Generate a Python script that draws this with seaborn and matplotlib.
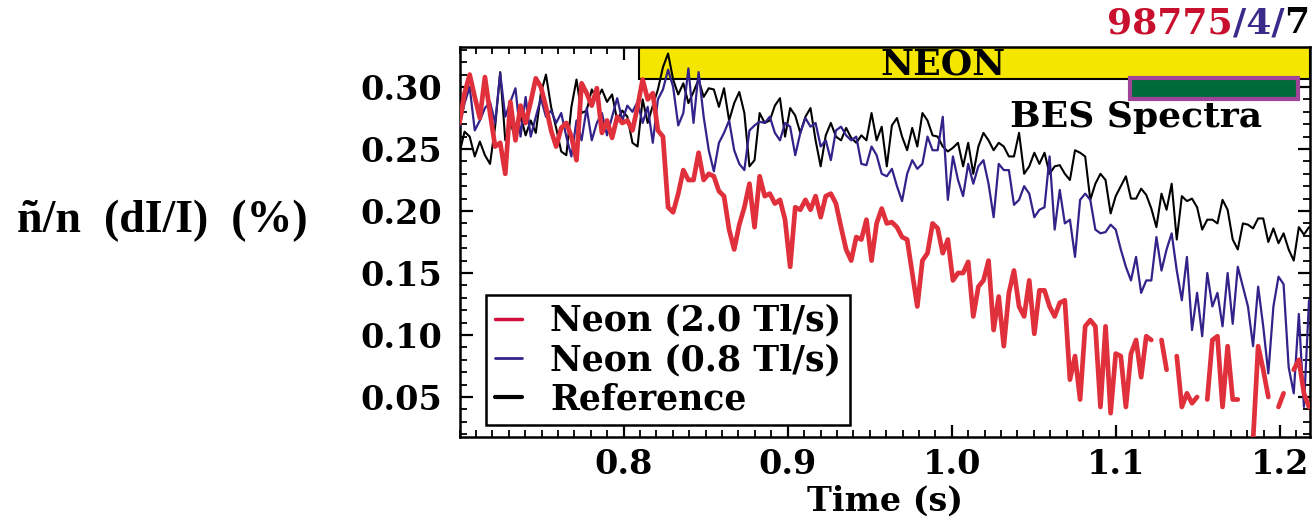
import numpy as np
import pandas as pd
import matplotlib
matplotlib.use("Agg")
import matplotlib.pyplot as plt
import seaborn as sns
from matplotlib.patches import Rectangle
from matplotlib.lines import Line2D
from matplotlib.ticker import FixedLocator, MultipleLocator, FormatStrFormatter

# ---------------- data ----------------
n_samples = 168
t0, dt = 0.700, 0.0031
time = np.round(t0 + dt * np.arange(n_samples), 4)

neon_20 = [
    0.271, 0.295, 0.310, 0.292, 0.275, 0.308, 0.279, 0.252, 0.255, 0.230,
    0.288, 0.257, 0.285, 0.271, 0.288, 0.307, 0.300, 0.284, 0.265, 0.252,
    0.267, 0.271, 0.260, 0.241, 0.303, 0.295, 0.285, 0.299, 0.263, 0.273,
    0.259, 0.276, 0.271, 0.273, 0.265, 0.284, 0.306, 0.290, 0.295, 0.265,
    0.260, 0.203, 0.199,
    0.214, 0.233, 0.225, 0.225, 0.247, 0.225, 0.230, 0.228, 0.216, 0.212,
    0.185, 0.169, 0.189, 0.203, 0.222, 0.187, 0.228, 0.212, 0.214, 0.206,
    0.209, 0.193, 0.155, 0.203, 0.201, 0.209, 0.201, 0.212, 0.195, 0.212,
    0.214, 0.206, 0.187, 0.169, 0.160, 0.179, 0.177, 0.193, 0.160, 0.190,
    0.202,
    0.190, 0.191, 0.187, 0.179, 0.177, 0.150, 0.123, 0.160, 0.166, 0.190,
    0.186, 0.166, 0.177, 0.144, 0.150, 0.150, 0.159, 0.115, 0.139, 0.144,
    0.160, 0.104, 0.131, 0.091, 0.134, 0.152, 0.123, 0.115, 0.144, 0.101,
    0.136, 0.136, 0.123, 0.115, 0.126, 0.128, 0.064, 0.083, 0.048, 0.107,
    0.112,
    0.107, 0.042, 0.107, 0.037, 0.085, 0.083, 0.042, 0.085, 0.096, 0.066,
    0.099, 0.096, np.nan, 0.096, 0.072, np.nan, 0.083, 0.042, 0.053, 0.045,
    0.050, np.nan, 0.048, 0.096, 0.099, 0.042, 0.091, 0.048, 0.048, np.nan,
    np.nan, 0.015, 0.091, 0.072, 0.050, np.nan, 0.042, 0.053, np.nan, 0.072,
    0.080, 0.053, 0.042,
]

neon_08 = [
    0.268, 0.287, 0.300, 0.265, 0.273, 0.283, 0.288, 0.271, 0.311, 0.276,
    0.288, 0.299, 0.260, 0.292, 0.260, 0.276, 0.291, 0.276, 0.281, 0.271,
    0.279, 0.260, 0.244, 0.273, 0.257, 0.283, 0.257, 0.271, 0.279, 0.261,
    0.276, 0.291, 0.273, 0.285, 0.280, 0.288, 0.271, 0.284, 0.255, 0.290,
    0.298, 0.314, 0.300,
    0.269, 0.279, 0.315, 0.271, 0.312, 0.276, 0.249, 0.232, 0.255, 0.263,
    0.273, 0.249, 0.238, 0.233, 0.265, 0.269, 0.272, 0.271, 0.276, 0.263,
    0.257, 0.271, 0.268, 0.245, 0.263, 0.275, 0.268, 0.271, 0.252, 0.257,
    0.241, 0.265, 0.268, 0.261, 0.257, 0.260, 0.238, 0.237, 0.252, 0.245,
    0.230,
    0.228, 0.234, 0.220, 0.208, 0.230, 0.241, 0.234, 0.238, 0.260, 0.249,
    0.249, 0.276, 0.209, 0.244, 0.225, 0.212, 0.238, 0.222, 0.236, 0.241,
    0.222, 0.195, 0.238, 0.233, 0.233, 0.205, 0.209, 0.220, 0.214, 0.195,
    0.201, 0.203, 0.244, 0.185, 0.217, 0.190, 0.193, 0.163, 0.209, 0.214,
    0.209,
    0.185, 0.182, 0.183, 0.189, 0.185, 0.169, 0.155, 0.144, 0.163, 0.134,
    0.144, 0.144, 0.179, 0.152, 0.169, 0.182, 0.152, 0.128, 0.163, 0.104,
    0.134, 0.099, 0.150, 0.123, 0.134, 0.107, 0.150, 0.109, 0.155, 0.139,
    0.123, 0.091, 0.139, 0.107, 0.069, 0.123, 0.147, 0.141, 0.074, 0.053,
    0.117, 0.042, 0.128,
]

reference = [
    0.247, 0.264, 0.260, 0.244, 0.256, 0.245, 0.238, 0.268, 0.312, 0.257,
    0.271, 0.259, 0.277, 0.261, 0.273, 0.263, 0.295, 0.310, 0.284, 0.267,
    0.248, 0.245, 0.284, 0.306, 0.279, 0.281, 0.298, 0.290, 0.298, 0.288,
    0.294, 0.273, 0.281, 0.276, 0.255, 0.252, 0.290, 0.271, 0.285, 0.298,
    0.316, 0.327, 0.306,
    0.294, 0.303, 0.287, 0.296, 0.306, 0.292, 0.299, 0.298, 0.284, 0.299,
    0.273, 0.287, 0.296, 0.279, 0.236, 0.241, 0.279, 0.271, 0.273, 0.285,
    0.291, 0.260, 0.283, 0.277, 0.263, 0.276, 0.283, 0.257, 0.236, 0.261,
    0.271, 0.260, 0.257, 0.267, 0.259, 0.255, 0.261, 0.257, 0.279, 0.257,
    0.268,
    0.236, 0.269, 0.275, 0.260, 0.249, 0.267, 0.252, 0.279, 0.273, 0.261,
    0.260, 0.252, 0.248, 0.251, 0.255, 0.236, 0.255, 0.230, 0.252, 0.263,
    0.257, 0.249, 0.255, 0.252, 0.244, 0.244, 0.263, 0.230, 0.236, 0.247,
    0.238, 0.247, 0.230, 0.236, 0.237, 0.230, 0.225, 0.249, 0.247, 0.244,
    0.209,
    0.222, 0.230, 0.225, 0.198, 0.212, 0.220, 0.228, 0.210, 0.210, 0.218,
    0.213, 0.202, 0.187, 0.214, 0.201, 0.222, 0.177, 0.212, 0.208, 0.210,
    0.203, 0.185, 0.193, 0.193, 0.190, 0.209, 0.201, 0.177, 0.169, 0.190,
    0.189, 0.186, 0.194, 0.194, 0.175, 0.186, 0.174, 0.182, 0.169, 0.160,
    0.187, 0.181, 0.187,
]

series_labels = ["Neon (2.0 Tl/s)", "Neon (0.8 Tl/s)", "Reference"]
x_ticks = [0.8, 0.9, 1.0, 1.1, 1.2]
y_ticks = [0.05, 0.10, 0.15, 0.20, 0.25, 0.30]
neon_window = (0.8094, 1.2183)
bes_window = (1.1084, 1.2107)

# ---------------- style ----------------
sns.set_theme(style="white")
plt.rcParams["font.family"] = ["DejaVu Serif"]
plt.rcParams["font.weight"] = "bold"
for key in ["text.color", "axes.labelcolor", "xtick.color", "ytick.color", "axes.edgecolor"]:
    plt.rcParams[key] = "black"

RED, RED_LEG = "#e0303c", "#d0103a"
BLUE = "#33228a"
BLACK = "#000000"


def long_frame(values, name):
    v = np.asarray(values, dtype=float)
    seg = np.cumsum(np.isnan(v))
    df = pd.DataFrame({"time": time, "value": v, "seg": seg, "series": name})
    return df.dropna()


df_red = long_frame(neon_20, series_labels[0])
df_blue = long_frame(neon_08, series_labels[1])
df_black = long_frame(reference, series_labels[2])

W, H = 1312, 520
fig = plt.figure(figsize=(W / 100, H / 100), dpi=100)
ax = fig.add_axes([459.5 / W, 1 - 436.7 / H, (1310 - 459.5) / W, (436.7 - 46.7) / H])
ax.set_facecolor("white")

xlim = (0.700, 1.2183)
ylim = (0.018, 0.3325)

# NEON bar
ax.add_patch(Rectangle((neon_window[0], 0.3065), neon_window[1] - neon_window[0], ylim[1] - 0.3065,
                       facecolor="#f5e600", edgecolor="black", lw=1.5, zorder=1.5, clip_on=True))
ax.text(0.9947, 0.3097, "NEON", ha="center", va="baseline", fontsize=26, weight="bold",
        color="black", zorder=6)

# lines
sns.lineplot(data=df_black, x="time", y="value", units="seg", estimator=None,
             color=BLACK, lw=1.5, ax=ax, zorder=3, legend=False)
sns.lineplot(data=df_blue, x="time", y="value", units="seg", estimator=None,
             color=BLUE, lw=1.6, ax=ax, zorder=3.2, legend=False)
sns.lineplot(data=df_red, x="time", y="value", units="seg", estimator=None,
             color=RED, lw=3.4, ax=ax, zorder=3.4, legend=False)

# BES spectra window
ax.add_patch(Rectangle((bes_window[0], 0.2905), bes_window[1] - bes_window[0], 0.3075 - 0.2905,
                       facecolor="#006b3a", edgecolor="#a0449a", lw=3, zorder=5))
ax.text(1.1123, 0.268, "BES Spectra", ha="center", va="baseline", fontsize=26, weight="bold",
        color="black", zorder=6)

ax.set_xlim(*xlim)
ax.set_ylim(*ylim)
ax.xaxis.set_major_locator(FixedLocator(x_ticks))
ax.xaxis.set_minor_locator(MultipleLocator(0.01))
ax.yaxis.set_major_locator(FixedLocator(y_ticks))
ax.yaxis.set_minor_locator(MultipleLocator(0.01))
ax.xaxis.set_major_formatter(FormatStrFormatter("%.1f"))
ax.yaxis.set_major_formatter(FormatStrFormatter("%.2f"))

ax.tick_params(which="both", direction="in", top=True, right=True, bottom=True, left=True,
               color="black", labelcolor="black")
ax.tick_params(which="major", length=9, width=1.6, labelsize=24)
ax.tick_params(which="minor", length=5, width=1.3)
ax.tick_params(axis="y", which="major", pad=12.5)
ax.tick_params(axis="x", which="major", pad=8)
for lab in ax.get_xticklabels() + ax.get_yticklabels():
    lab.set_fontweight("bold")
for sp in ax.spines.values():
    sp.set_color("black")
    sp.set_linewidth(1.8)

ax.set_xlabel("Time (s)", fontsize=24, weight="bold", labelpad=3, color="black")
ax.set_ylabel("")

fig.text(17 / W, 1 - 231.7 / H, "ñ/n  (dI/I)  (%)", ha="left", va="baseline",
         fontsize=33, weight="bold", color="black",
         family=["Liberation Serif", "DejaVu Serif"])

# legend
handles = [Line2D([], [], color=RED_LEG, lw=2.5),
           Line2D([], [], color=BLUE, lw=2.0),
           Line2D([], [], color=BLACK, lw=3.0)]
leg = ax.legend(handles, series_labels, loc="upper left", bbox_to_anchor=(0.031, 0.363),
                borderaxespad=0, frameon=True, fancybox=False, edgecolor="black", framealpha=1,
                handlelength=0.8, handletextpad=0.8, labelspacing=0.15, borderpad=0.25,
                prop={"size": 25, "weight": "bold"})
leg.get_frame().set_linewidth(1.8)
leg.set_zorder(10)
for txt in leg.get_texts():
    txt.set_color("black")

# shot-number title (multi-coloured)
t1 = fig.text(1107 / W, 1 - 33.3 / H, "98775", color="#c8102e", fontsize=26, weight="bold",
              ha="left", va="baseline")
a2 = plt.annotate("/4/", xycoords=t1, xy=(1, 0), va="bottom", ha="left", color="#3a2a8a",
                  fontsize=26, weight="bold", annotation_clip=False)
a3 = plt.annotate("7", xycoords=a2, xy=(1, 0), va="bottom", ha="left", color="black",
                  fontsize=26, weight="bold", annotation_clip=False)

fig.savefig("out.png", dpi=100, facecolor="white")
